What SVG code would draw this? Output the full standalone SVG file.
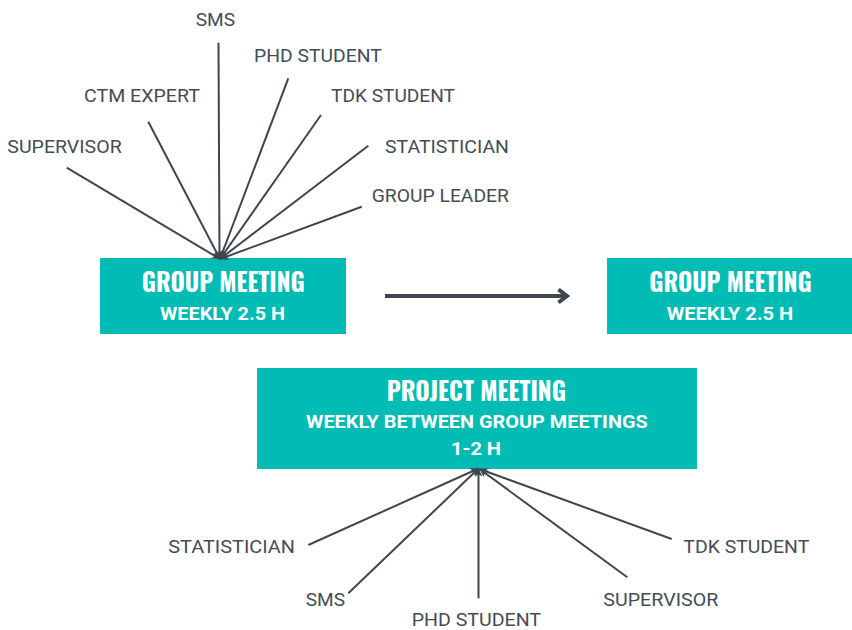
<svg xmlns="http://www.w3.org/2000/svg" width="852" height="630" viewBox="0 0 852 630">
<style>
.box{fill:#00bcb4}
.hd{font-family:"Oswald","Liberation Sans Narrow","DejaVu Sans Condensed","Roboto Condensed",sans-serif;font-weight:bold;font-size:26px;fill:#ffffff}
.sub{font-family:Roboto,"Liberation Sans",sans-serif;font-weight:bold;font-size:19px;fill:#ffffff}
.lbl{font-family:Roboto,"Liberation Sans",sans-serif;font-size:18.5px;fill:#454c54}
.ln{stroke:#3f464e;stroke-width:2;fill:none;marker-end:url(#ah)}
</style>
<defs>
<marker id="ah" markerUnits="userSpaceOnUse" markerWidth="12" markerHeight="12" refX="9" refY="5" orient="auto">
<path d="M1,1 L9,5 L1,9 L3,5 Z" fill="#3f464e"/>
</marker>
</defs>
<rect width="852" height="630" fill="#ffffff"/>
<g id="group-meeting-1">
<rect class="box" x="100" y="258" width="246" height="76"/>
<text class="hd" x="141.7" y="292" textLength="163" lengthAdjust="spacingAndGlyphs">GROUP MEETING</text>
<text class="sub" x="160" y="320" textLength="125" lengthAdjust="spacingAndGlyphs">WEEKLY 2.5 H</text>
</g>
<g id="group-meeting-2">
<rect class="box" x="607" y="258" width="245" height="76"/>
<text class="hd" x="649.3" y="292" textLength="162.4" lengthAdjust="spacingAndGlyphs">GROUP MEETING</text>
<text class="sub" x="666.7" y="320" textLength="126.6" lengthAdjust="spacingAndGlyphs">WEEKLY 2.5 H</text>
</g>
<g id="project-meeting">
<rect class="box" x="257" y="368" width="440" height="101"/>
<text class="hd" x="386.7" y="401" textLength="179.3" lengthAdjust="spacingAndGlyphs">PROJECT MEETING</text>
<text class="sub" x="306" y="428" textLength="341.7" lengthAdjust="spacingAndGlyphs">WEEKLY BETWEEN GROUP MEETINGS</text>
<text class="sub" x="451" y="455" textLength="50" lengthAdjust="spacingAndGlyphs">1-2 H</text>
</g>
<g id="top-labels">
<text class="lbl" x="195.7" y="26" textLength="39.3" lengthAdjust="spacingAndGlyphs">SMS</text>
<text class="lbl" x="254" y="61.7" textLength="127.7" lengthAdjust="spacingAndGlyphs">PHD STUDENT</text>
<text class="lbl" x="84" y="102.3" textLength="116" lengthAdjust="spacingAndGlyphs">CTM EXPERT</text>
<text class="lbl" x="331" y="102.3" textLength="124" lengthAdjust="spacingAndGlyphs">TDK STUDENT</text>
<text class="lbl" x="7.3" y="152.7" textLength="114.4" lengthAdjust="spacingAndGlyphs">SUPERVISOR</text>
<text class="lbl" x="385" y="152.7" textLength="124" lengthAdjust="spacingAndGlyphs">STATISTICIAN</text>
<text class="lbl" x="371.7" y="202.3" textLength="137.3" lengthAdjust="spacingAndGlyphs">GROUP LEADER</text>
</g>
<g id="bottom-labels">
<text class="lbl" x="168.3" y="552.7" textLength="126.7" lengthAdjust="spacingAndGlyphs">STATISTICIAN</text>
<text class="lbl" x="305.7" y="606" textLength="39.3" lengthAdjust="spacingAndGlyphs">SMS</text>
<text class="lbl" x="411.7" y="625.5" textLength="129.3" lengthAdjust="spacingAndGlyphs">PHD STUDENT</text>
<text class="lbl" x="683.3" y="552.7" textLength="126" lengthAdjust="spacingAndGlyphs">TDK STUDENT</text>
<text class="lbl" x="603.3" y="606" textLength="115" lengthAdjust="spacingAndGlyphs">SUPERVISOR</text>
</g>
<g id="connectors">
<line class="ln" x1="66.7" y1="167.7" x2="220" y2="259"/>
<line class="ln" x1="148.3" y1="121.7" x2="220" y2="259"/>
<line class="ln" x1="218.5" y1="42.7" x2="219.5" y2="259"/>
<line class="ln" x1="288.3" y1="78.3" x2="220" y2="259"/>
<line class="ln" x1="321" y1="115" x2="220" y2="259"/>
<line class="ln" x1="368.3" y1="145.7" x2="220" y2="259"/>
<line class="ln" x1="361.7" y1="206.7" x2="220" y2="259"/>
<line class="ln" x1="308.3" y1="545" x2="478.5" y2="468.5"/>
<line class="ln" x1="348.3" y1="593.3" x2="478.5" y2="468.5"/>
<line class="ln" x1="478.5" y1="598.3" x2="478.5" y2="468.5"/>
<line class="ln" x1="627.3" y1="577.3" x2="479.5" y2="469"/>
<line class="ln" x1="671.7" y1="539" x2="479.5" y2="469"/>
<line x1="385" y1="296" x2="566" y2="296" stroke="#3f464e" stroke-width="4"/>
<polyline points="558.5,289.5 567,296 558.5,302.5" fill="none" stroke="#3f464e" stroke-width="4"/>
</g>
</svg>
